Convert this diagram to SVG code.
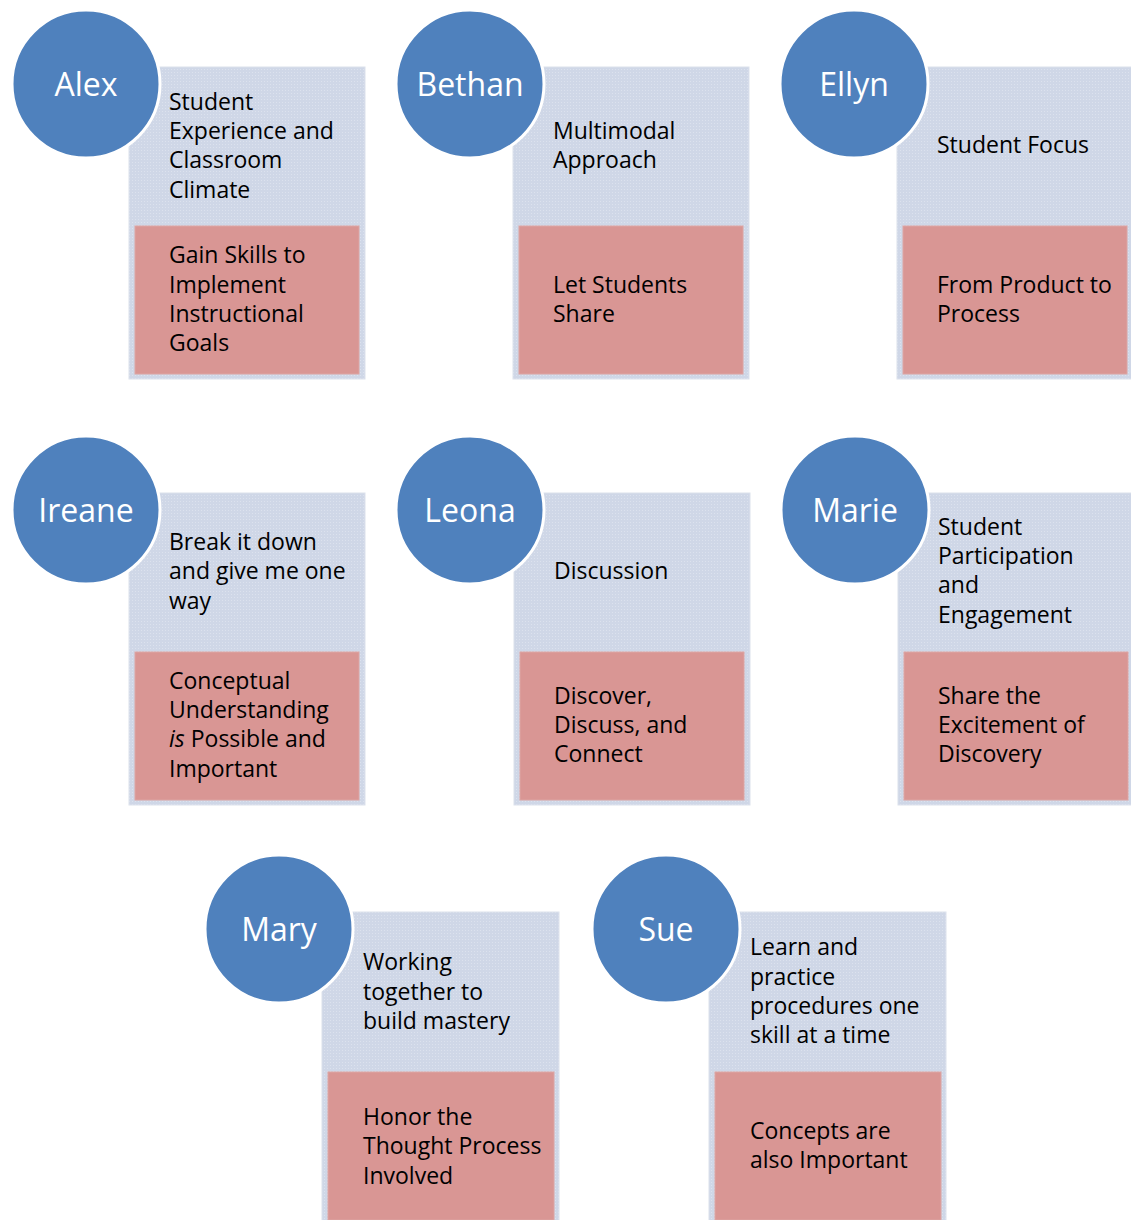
<svg xmlns="http://www.w3.org/2000/svg" width="1131" height="1220" viewBox="0 0 1131 1220">
<defs>
<pattern id="dots" width="3" height="3" patternUnits="userSpaceOnUse">
<rect width="3" height="3" fill="#CFD7E7"/>
<rect width="1" height="1" fill="#DCE2EE"/>
</pattern>
</defs>
<style>
.grey{fill:url(#dots);stroke:#DCE1EC;stroke-width:1}
.pink{fill:#D99694;stroke:#DDA5A3;stroke-width:1}
.circ{fill:#4F81BD;stroke:#FFFFFF;stroke-width:3}
.name{font-family:"Open Sans","Liberation Sans",sans-serif;font-size:32px;fill:#FFFFFF;text-anchor:middle}
.t{font-family:"Open Sans","Liberation Sans",sans-serif;font-size:23px;fill:#000000}
</style>
<rect width="1131" height="1220" fill="#FFFFFF"/>
<g id="connectors"></g>

<g id="alex">
<rect class="grey" x="129" y="67" width="236" height="312"/>
<rect class="pink" x="135" y="226" width="224" height="148"/>
<circle class="circ" cx="86" cy="84" r="74"/>
<text class="name" x="86" y="96">Alex</text>
<text class="t"><tspan x="169" y="110">Student</tspan><tspan x="169" y="139">Experience and</tspan><tspan x="169" y="168">Classroom</tspan><tspan x="169" y="198">Climate</tspan></text>
<text class="t"><tspan x="169" y="263">Gain Skills to</tspan><tspan x="169" y="293">Implement</tspan><tspan x="169" y="322">Instructional</tspan><tspan x="169" y="351">Goals</tspan></text>
</g>

<g id="bethan">
<rect class="grey" x="513" y="67" width="236" height="312"/>
<rect class="pink" x="519" y="226" width="224" height="148"/>
<circle class="circ" cx="470" cy="84" r="74"/>
<text class="name" x="470" y="96">Bethan</text>
<text class="t"><tspan x="553" y="139">Multimodal</tspan><tspan x="553" y="168">Approach</tspan></text>
<text class="t"><tspan x="553" y="293">Let Students</tspan><tspan x="553" y="322">Share</tspan></text>
</g>

<g id="ellyn">
<rect class="grey" x="897" y="67" width="236" height="312"/>
<rect class="pink" x="903" y="226" width="224" height="148"/>
<circle class="circ" cx="854" cy="84" r="74"/>
<text class="name" x="854" y="96">Ellyn</text>
<text class="t"><tspan x="937" y="153">Student Focus</tspan></text>
<text class="t"><tspan x="937" y="293">From Product to</tspan><tspan x="937" y="322">Process</tspan></text>
</g>

<g id="ireane">
<rect class="grey" x="129" y="493" width="236" height="312"/>
<rect class="pink" x="135" y="652" width="224" height="148"/>
<circle class="circ" cx="86" cy="510" r="74"/>
<text class="name" x="86" y="522">Ireane</text>
<text class="t"><tspan x="169" y="550">Break it down</tspan><tspan x="169" y="579">and give me one</tspan><tspan x="169" y="609">way</tspan></text>
<text class="t"><tspan x="169" y="689">Conceptual</tspan><tspan x="169" y="718">Understanding</tspan><tspan x="169" y="747"><tspan font-style="italic">is</tspan> Possible and</tspan><tspan x="169" y="777">Important</tspan></text>
</g>

<g id="leona">
<rect class="grey" x="514" y="493" width="236" height="312"/>
<rect class="pink" x="520" y="652" width="224" height="148"/>
<circle class="circ" cx="470" cy="510" r="74"/>
<text class="name" x="470" y="522">Leona</text>
<text class="t"><tspan x="554" y="579">Discussion</tspan></text>
<text class="t"><tspan x="554" y="704">Discover,</tspan><tspan x="554" y="733">Discuss, and</tspan><tspan x="554" y="762">Connect</tspan></text>
</g>

<g id="marie">
<rect class="grey" x="898" y="493" width="236" height="312"/>
<rect class="pink" x="904" y="652" width="224" height="148"/>
<circle class="circ" cx="855" cy="510" r="74"/>
<text class="name" x="855" y="522">Marie</text>
<text class="t"><tspan x="938" y="535">Student</tspan><tspan x="938" y="564">Participation</tspan><tspan x="938" y="593">and</tspan><tspan x="938" y="623">Engagement</tspan></text>
<text class="t"><tspan x="938" y="704">Share the</tspan><tspan x="938" y="733">Excitement of</tspan><tspan x="938" y="762">Discovery</tspan></text>
</g>

<g id="mary">
<rect class="grey" x="322" y="912" width="237" height="312"/>
<rect class="pink" x="328" y="1072" width="226" height="148"/>
<circle class="circ" cx="279" cy="929" r="74"/>
<text class="name" x="279" y="941">Mary</text>
<text class="t"><tspan x="363" y="970">Working</tspan><tspan x="363" y="1000">together to</tspan><tspan x="363" y="1029">build mastery</tspan></text>
<text class="t"><tspan x="363" y="1125">Honor the</tspan><tspan x="363" y="1154">Thought Process</tspan><tspan x="363" y="1184">Involved</tspan></text>
</g>

<g id="sue">
<rect class="grey" x="709" y="912" width="237" height="312"/>
<rect class="pink" x="715" y="1072" width="226" height="148"/>
<circle class="circ" cx="666" cy="929" r="74"/>
<text class="name" x="666" y="941">Sue</text>
<text class="t"><tspan x="750" y="955">Learn and</tspan><tspan x="750" y="985">practice</tspan><tspan x="750" y="1014">procedures one</tspan><tspan x="750" y="1043">skill at a time</tspan></text>
<text class="t"><tspan x="750" y="1139">Concepts are</tspan><tspan x="750" y="1168">also Important</tspan></text>
</g>
</svg>
